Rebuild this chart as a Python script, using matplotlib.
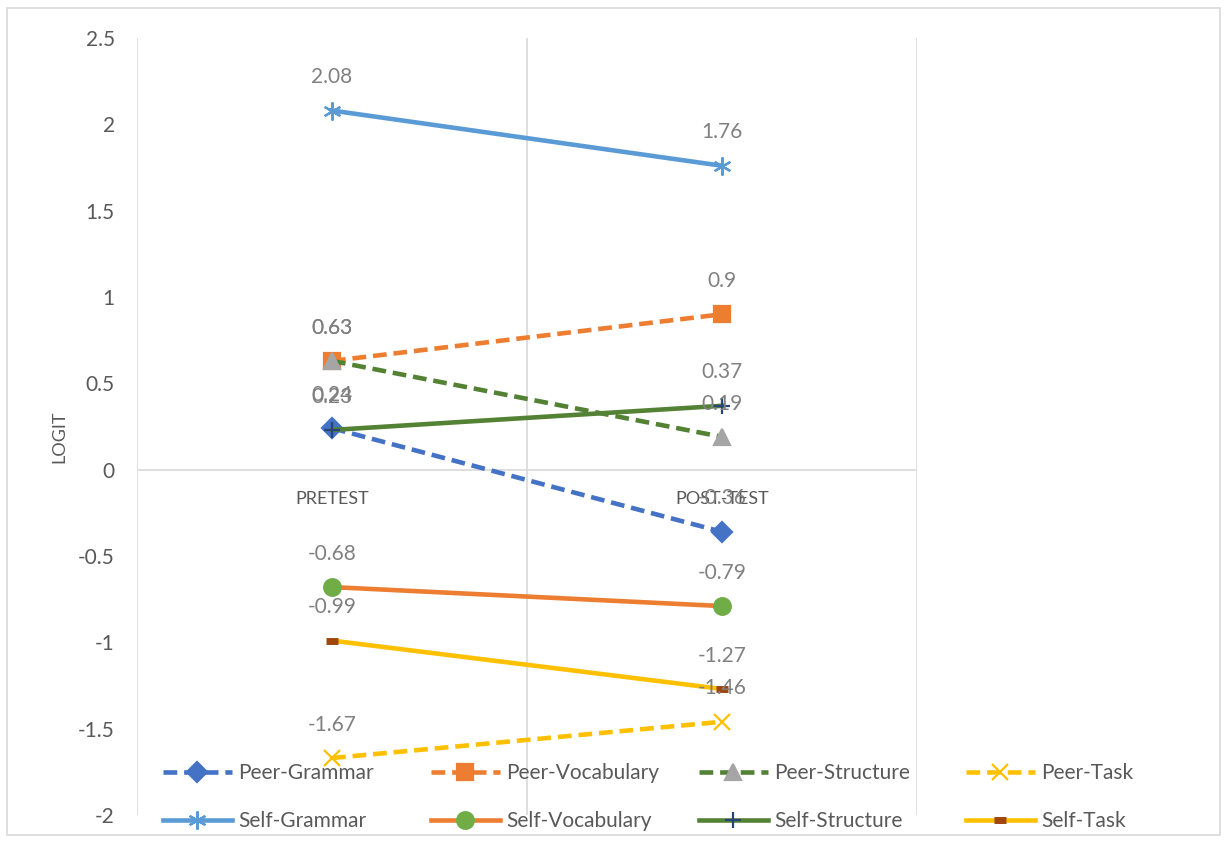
import matplotlib.pyplot as plt
from matplotlib.patches import Rectangle

plt.rcParams['font.family'] = ['Lato', 'DejaVu Sans']

# Data
categories = ["PRETEST", "POST-TEST"]
series_names = ["Peer-Grammar", "Peer-Vocabulary", "Peer-Structure", "Peer-Task",
                "Self-Grammar", "Self-Vocabulary", "Self-Structure", "Self-Task"]
peer_grammar = [0.24, -0.36]
peer_vocabulary = [0.63, 0.9]
peer_structure = [0.63, 0.19]
peer_task = [-1.67, -1.46]
self_grammar = [2.08, 1.76]
self_vocabulary = [-0.68, -0.79]
self_structure = [0.23, 0.37]
self_task = [-0.99, -1.27]
y_ticks = [-2, -1.5, -1, -0.5, 0, 0.5, 1, 1.5, 2, 2.5]

values = [peer_grammar, peer_vocabulary, peer_structure, peer_task,
          self_grammar, self_vocabulary, self_structure, self_task]

# style per series: line colour, dashed, marker, marker colour, marker size
styles = [
    ("#4472C4", True, "D", "#4472C4", 10),
    ("#ED7D31", True, "s", "#ED7D31", 11),
    ("#548235", True, "^", "#A5A5A5", 11),
    ("#FFC000", True, "x", "#FFC000", 12),
    ("#5B9BD5", False, (6, 2, 0), "#5B9BD5", 13),
    ("#ED7D31", False, "o", "#70AD47", 12),
    ("#548235", False, "+", "#264478", 12),
    ("#FFC000", False, "_", "#9E480E", 8),
]

grid_col = "#D9D9D9"
tick_col = "#595959"
label_col = "#808080"

fig = plt.figure(figsize=(12.27, 8.41), dpi=100)
fig.patches.append(Rectangle((7 / 1227, 1 - 835 / 841), 1213 / 1227, 827 / 841,
                             transform=fig.transFigure, fill=False,
                             edgecolor=grid_col, linewidth=1.2))

ax = fig.add_axes([137 / 1227, 1 - 815 / 841, 780 / 1227, 777 / 841])
xpos = [0.5, 1.5]

handles = []
for name, vals, (col, dashed, mk, mcol, ms) in zip(series_names, values, styles):
    line, = ax.plot(xpos, vals, color=col, linewidth=3.3,
                    linestyle=(0, (3, 1.5)) if dashed else "-",
                    marker=mk, markersize=ms, markerfacecolor=mcol,
                    markeredgecolor=mcol,
                    markeredgewidth=5 if mk == "_" else 1.6,
                    label=name, zorder=3)
    handles.append(line)
    for x, v in zip(xpos, vals):
        ax.annotate(f"{v:g}", (x, v), xytext=(0, 24), textcoords="offset points",
                    ha="center", va="center", fontsize=15, color=label_col, zorder=4)

ax.set_xlim(0, 2)
ax.set_ylim(-2, 2.5)
ax.set_yticks(y_ticks)
ax.set_yticklabels([f"{t:g}" for t in y_ticks])
ax.set_xticks([])
ax.tick_params(axis="y", length=0, pad=16, labelsize=15, labelcolor=tick_col)
for s in ax.spines.values():
    s.set_visible(False)
for gx in [0, 1, 2]:
    ax.axvline(gx, color=grid_col, linewidth=1.2, zorder=1)
ax.axhline(0, color=grid_col, linewidth=1.2, zorder=1)

for x, c in zip(xpos, categories):
    ax.annotate(c, (x, 0), xytext=(0, -21), textcoords="offset points",
                ha="center", va="center", fontsize=13, color=tick_col)

ax.set_ylabel("LOGIT", fontsize=13, color=tick_col)
ax.yaxis.set_label_coords(-70 / 780, (815 - 437) / 777)

# legend: two rows, four equal columns
col_x = [163, 431, 699, 966]
row_y = [773, 821]
for i, h in enumerate(handles):
    lx = col_x[i % 4] / 1227
    ly = 1 - row_y[i // 4] / 841
    fig.legend(handles=[h], loc="center left", bbox_to_anchor=(lx, ly),
               frameon=False, fontsize=15, handlelength=3.3, handletextpad=0.3,
               borderpad=0, borderaxespad=0, labelcolor=tick_col, numpoints=1)

fig.savefig("out.png", dpi=100)
